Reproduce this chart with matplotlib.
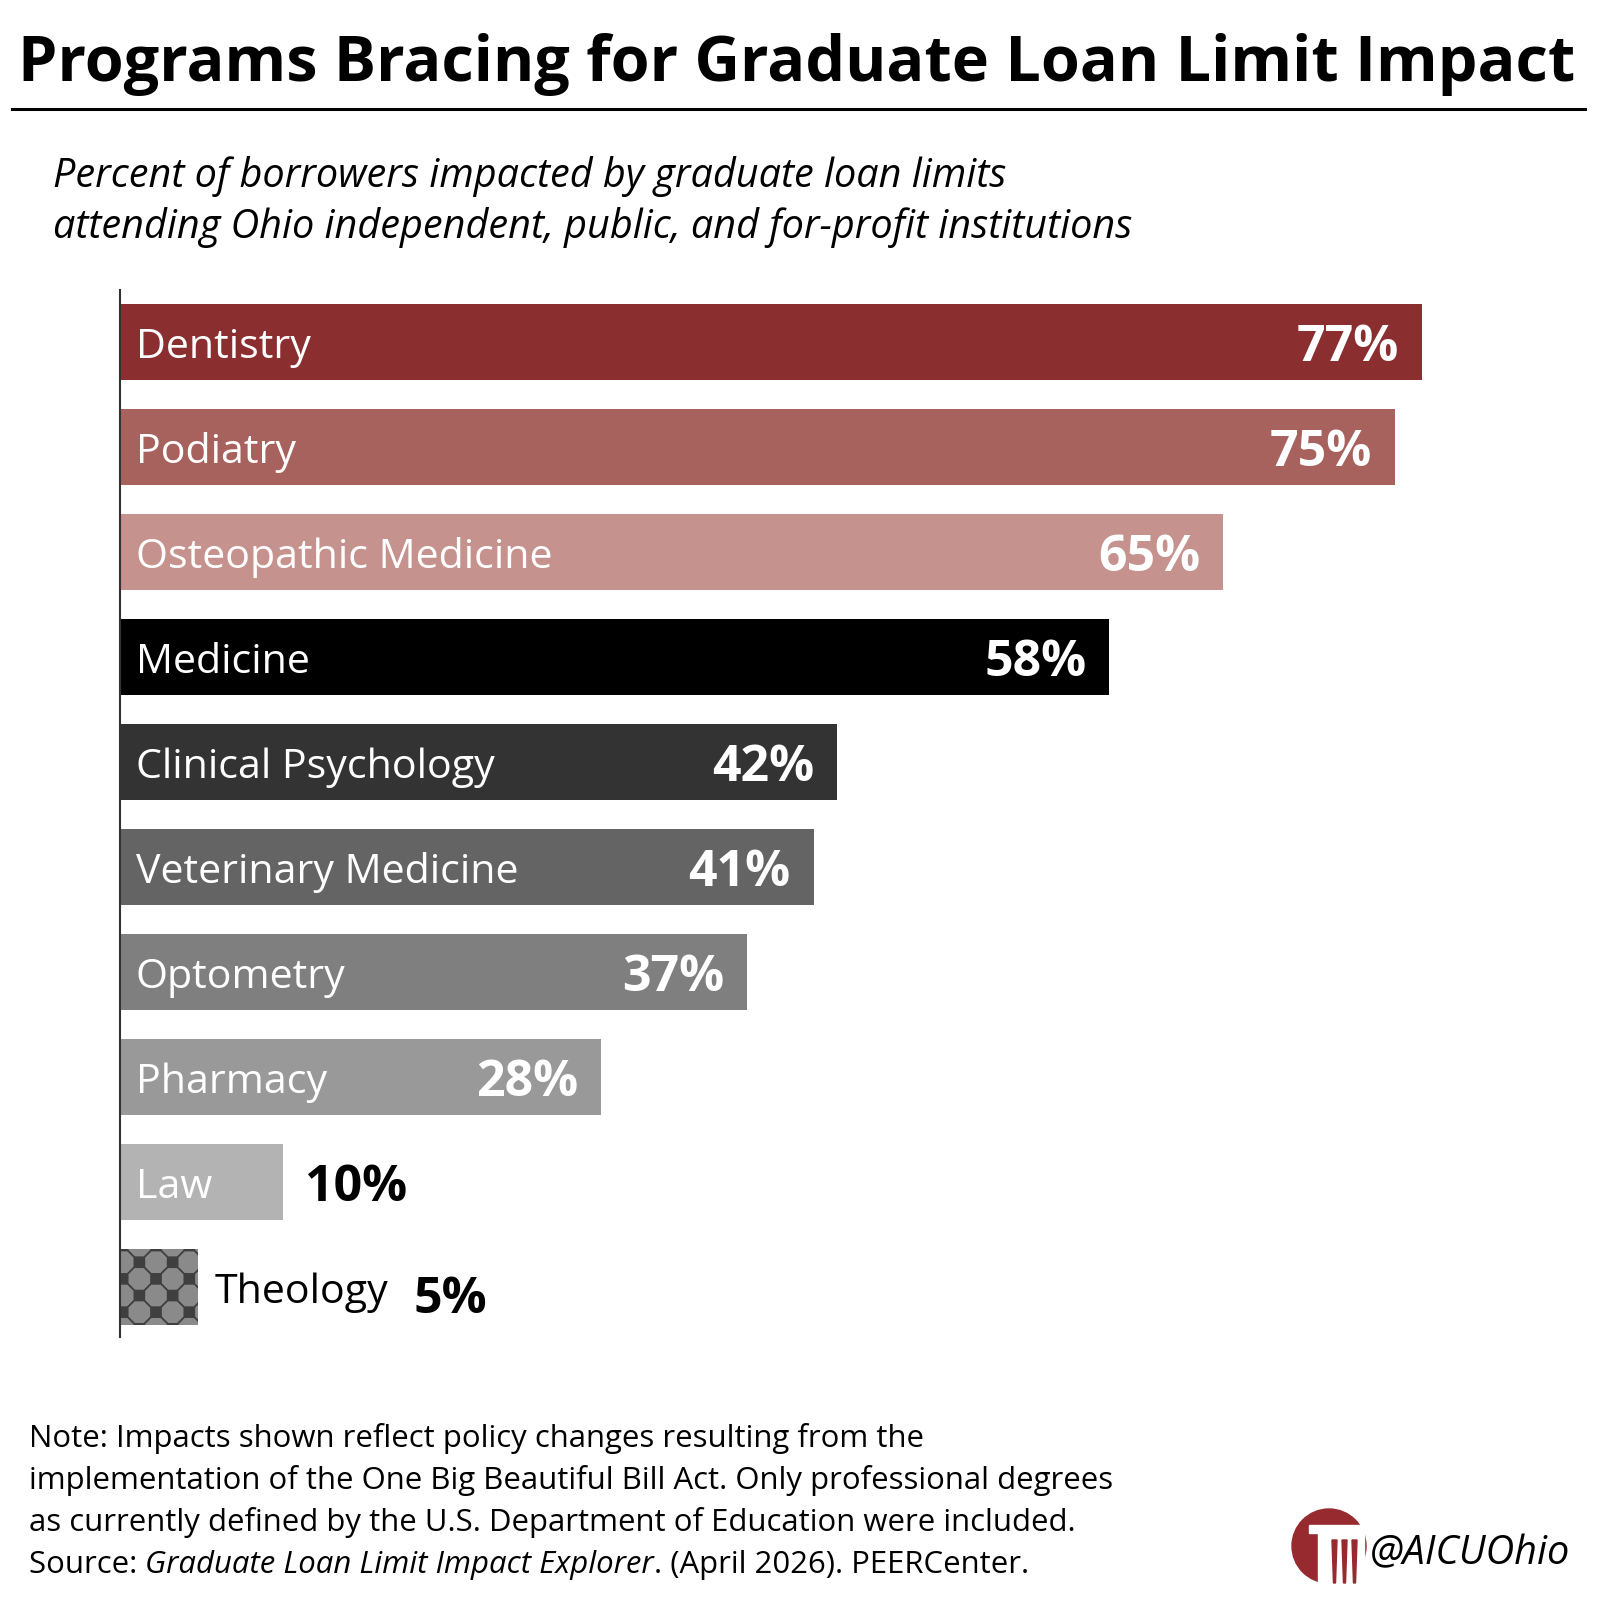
import matplotlib.pyplot as plt
from matplotlib.patches import Rectangle, Circle, Polygon

plt.rcParams['font.family'] = ['Open Sans', 'DejaVu Sans']

programs = ["Dentistry", "Podiatry", "Osteopathic Medicine", "Medicine",
            "Clinical Psychology", "Veterinary Medicine", "Optometry",
            "Pharmacy", "Law", "Theology"]
pct = [76.6, 75.0, 64.9, 58.2, 42.2, 40.8, 36.9, 28.3, 9.6, 4.6]
colors = ["#8a2e30", "#a8625e", "#c6928d", "#000000", "#333333",
          "#646464", "#7f7f7f", "#999999", "#b3b3b3", "#8a8a8a"]

title = "Programs Bracing for Graduate Loan Limit Impact"
subtitle = ["Percent of borrowers impacted by graduate loan limits",
            "attending Ohio independent, public, and for-profit institutions"]
note_lines = ["Note: Impacts shown reflect policy changes resulting from the",
              "implementation of the One Big Beautiful Bill Act. Only professional degrees",
              "as currently defined by the U.S. Department of Education were included."]
source_pre = "Source: "
source_ital = "Graduate Loan Limit Impact Explorer"
source_post = ". (April 2026). PEERCenter."
handle = "@AICUOhio"

W = H = 1600
fig = plt.figure(figsize=(16, 16), dpi=100)

def fx(px):
    return px / W

def fy(py):
    return 1 - py / H

# ---- title + rule
fig.text(fx(18), fy(81), title, fontsize=45.3, fontweight='bold', ha='left', va='baseline')
fig.add_artist(plt.Line2D([fx(12), fx(1585)], [fy(109), fy(109)], color='black', lw=2.2))

for line, yy in zip(subtitle, [187, 238]):
    fig.text(fx(53), fy(yy), line, fontsize=28.5, style='italic', ha='left', va='baseline')

# ---- bars
ax = fig.add_axes([fx(120), fy(1337), fx(1480), (1337 - 290) / H])
n = len(programs)
bars = ax.barh(range(n), pct, height=0.72, color=colors, edgecolor='none', zorder=2)
ax.set_xlim(0, 1480 / 17.0)
ax.set_ylim(n - 0.524, -0.495)
for s in ['top', 'right', 'bottom']:
    ax.spines[s].set_visible(False)
ax.spines['left'].set_color('#333333')
ax.spines['left'].set_linewidth(1.5)
ax.spines['left'].set_zorder(5)
ax.set_xticks([])
ax.set_yticks([])

lab_fs, val_fs = 29.6, 36
for i, (name, v) in enumerate(zip(programs, pct)):
    txt = f"{v:.0f}%"
    if name == "Theology":
        lab = ax.annotate(name, (v, i), xytext=(16, -16), textcoords='offset pixels',
                          fontsize=lab_fs, color='black', ha='left', va='baseline')
        ax.annotate(txt, (1, 0), xycoords=lab, xytext=(26, 0),
                    textcoords='offset pixels', fontsize=val_fs, fontweight='bold',
                    ha='left', va='baseline')
        continue
    ax.annotate(name, (0, i), xytext=(16, -16), textcoords='offset pixels',
                fontsize=lab_fs, color='white', ha='left', va='baseline')
    if v >= 20:
        ax.annotate(txt, (v, i), xytext=(-23, -19), textcoords='offset pixels',
                    fontsize=val_fs, fontweight='bold', color='white', ha='right', va='baseline')
    else:
        ax.annotate(txt, (v, i), xytext=(22, -19), textcoords='offset pixels',
                    fontsize=val_fs, fontweight='bold', color='black', ha='left', va='baseline')

# octagon-and-square texture on the Theology bar
tb = bars[-1]
fig.canvas.draw()
bb = ax.get_window_extent()
ux = (ax.get_xlim()[1] - ax.get_xlim()[0]) / bb.width
uy = (ax.get_ylim()[0] - ax.get_ylim()[1]) / bb.height
x0, y0 = tb.get_x(), tb.get_y()
per, half, hs = 33.3, 16.65, 5.0
a, b = 11.65, 5.0
centres = []
for i in range(-1, 4):
    for j in range(-1, 4):
        centres.append((2.7 + per * i, 13 + per * j))
        centres.append((2.7 + half + per * i, 13 + half + per * j))
for cx, cy in centres:
    pts = [(cx + a, cy - b), (cx + a, cy + b), (cx + b, cy + a), (cx - b, cy + a),
           (cx - a, cy + b), (cx - a, cy - b), (cx - b, cy - a), (cx + b, cy - a)]
    oct_ = Polygon([(x0 + px * ux, y0 + py * uy) for px, py in pts], closed=True,
                   facecolor='#8a8a8a', edgecolor='#3f3f3f', lw=1.2, zorder=3)
    ax.add_patch(oct_)
    oct_.set_clip_path(tb)
    sq = Rectangle((x0 + (cx + half - hs) * ux, y0 + (cy - hs) * uy), 2 * hs * ux, 2 * hs * uy,
                   facecolor='#3f3f3f', edgecolor='none', zorder=3)
    ax.add_patch(sq)
    sq.set_clip_path(tb)

# ---- note / source
note_fs = 22.4
ys = [1447, 1489, 1531]
for line, yy in zip(note_lines, ys):
    fig.text(fx(29), fy(yy), line, fontsize=note_fs, ha='left', va='baseline')
t1 = fig.text(fx(29), fy(1573), source_pre, fontsize=note_fs, ha='left', va='baseline')
t2 = plt.annotate(source_ital, (1, 0), xycoords=t1, fontsize=note_fs, style='italic',
                  ha='left', va='bottom', annotation_clip=False)
plt.annotate(source_post, (1, 0), xycoords=t2, fontsize=note_fs, ha='left', va='bottom',
             annotation_clip=False)

# ---- logo + handle
lg = fig.add_axes([fx(1285), fy(1600), fx(90), 100 / H])
lg.set_xlim(1285, 1375)
lg.set_ylim(1600, 1500)
lg.axis('off')
red = "#962a2e"
lg.add_patch(Circle((1329, 1546), 37, color=red))
lg.add_patch(Rectangle((1309, 1525), 55, 8, color='white'))
lg.add_patch(Rectangle((1318, 1533), 46, 60, color='white'))
for cxl in [1334.5, 1344.5, 1354.5]:
    lg.add_patch(Polygon([(cxl - 2.5, 1540), (cxl + 2.5, 1540), (cxl + 1, 1583), (cxl - 1, 1583)],
                         closed=True, color=red))
fig.text(fx(1370), fy(1564), handle, fontsize=28.5, style='italic', ha='left', va='baseline')

fig.savefig("out.png", dpi=100, facecolor='white')
